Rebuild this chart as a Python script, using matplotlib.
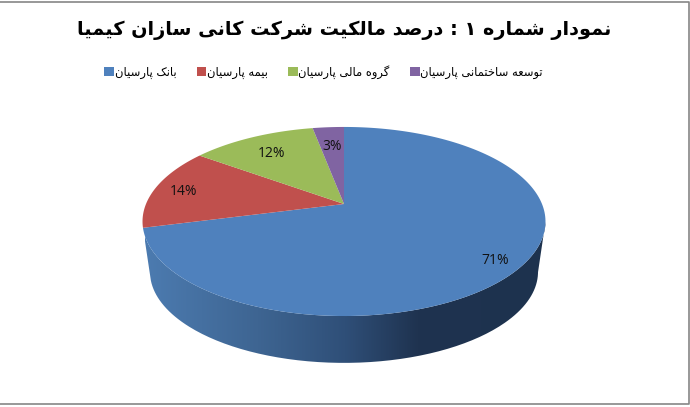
import numpy as np
import matplotlib
matplotlib.use("Agg")
import matplotlib.pyplot as plt
from matplotlib.colors import LinearSegmentedColormap
from matplotlib.patches import Patch, PathPatch
from matplotlib.path import Path

# chart data
title = "نمودار شماره ۱ : درصد مالکیت شرکت کانی سازان کیمیا"
names = ["بانک پارسیان", "بیمه پارسیان", "گروه مالی پارسیان", "توسعه ساختمانی پارسیان"]
values = [71, 14, 12, 3]
colors = ["#4f81bd", "#c0504d", "#9bbb59", "#8064a2"]
label_radius = [0.87, 0.85, 0.76, 0.75]

# presentation forms: isolated, final, initial, medial
FORMS = {
    "ا": (0xFE8D, 0xFE8E), "ب": (0xFE8F, 0xFE90, 0xFE91, 0xFE92),
    "پ": (0xFB56, 0xFB57, 0xFB58, 0xFB59), "ت": (0xFE95, 0xFE96, 0xFE97, 0xFE98),
    "خ": (0xFEA5, 0xFEA6, 0xFEA7, 0xFEA8), "د": (0xFEA9, 0xFEAA),
    "ر": (0xFEAD, 0xFEAE), "ز": (0xFEAF, 0xFEB0),
    "س": (0xFEB1, 0xFEB2, 0xFEB3, 0xFEB4), "ش": (0xFEB5, 0xFEB6, 0xFEB7, 0xFEB8),
    "ص": (0xFEB9, 0xFEBA, 0xFEBB, 0xFEBC), "ع": (0xFEC9, 0xFECA, 0xFECB, 0xFECC),
    "ک": (0xFB8E, 0xFB8F, 0xFB90, 0xFB91), "گ": (0xFB92, 0xFB93, 0xFB94, 0xFB95),
    "ل": (0xFEDD, 0xFEDE, 0xFEDF, 0xFEE0), "م": (0xFEE1, 0xFEE2, 0xFEE3, 0xFEE4),
    "ن": (0xFEE5, 0xFEE6, 0xFEE7, 0xFEE8), "ه": (0xFEE9, 0xFEEA, 0xFEEB, 0xFEEC),
    "و": (0xFEED, 0xFEEE), "ی": (0xFBFC, 0xFBFD, 0xFBFE, 0xFBFF),
}


def shape(text):
    '''
    Join the persian letters and put them in drawing order,
    matplotlib does neither by itself.
    '''
    out = []
    for i, ch in enumerate(text):
        if ch not in FORMS:
            out.append(ch)
            continue
        prev = text[i - 1] if i > 0 else " "
        nxt = text[i + 1] if i + 1 < len(text) else " "
        joins_prev = prev in FORMS and len(FORMS[prev]) == 4
        joins_next = nxt in FORMS and len(FORMS[ch]) == 4
        if joins_prev and joins_next:
            form = 3
        elif joins_prev:
            form = 1
        elif joins_next:
            form = 2
        else:
            form = 0
        out.append(chr(FORMS[ch][form]))
    return "".join(reversed(out))


def project(angle, radius=1.0, lower=False):
    '''
    Perspective view of a point on the pie, angle clockwise from 12 o'clock.
    lower=True gives the bottom rim of the pie.
    '''
    u = radius * np.sin(angle)
    v = radius * np.cos(angle)
    den = 1 + 0.185 * v
    if lower:
        return 344 + 0.963 * 198 * u / den, 255 - 0.963 * 91.3 * v / den
    return 344 + 198 * u / den, 204 - 91.3 * v / den


plt.rcParams["font.family"] = "DejaVu Sans"
fig = plt.figure(figsize=(6.9, 4.07), dpi=100)
ax = fig.add_axes([0, 0, 1, 1])

edges = 2 * np.pi * np.cumsum([0] + values) / sum(values)

# side wall of the blue slice, only this one faces the viewer
arc = np.linspace(edges[0], edges[1], 300)
top_x, top_y = project(arc)
low_x, low_y = project(arc, lower=True)
# lower rim only between its left and right extremes, so the sides run straight
keep = np.arange(np.argmax(low_x), np.argmin(low_x) + 1)
right = np.argmax(top_x)
wall_x = np.r_[top_x[right:], low_x[keep][::-1], top_x[right]]
wall_y = np.r_[top_y[right:], low_y[keep][::-1], top_y[right]]
wall_cmap = LinearSegmentedColormap.from_list(
    "wall", [(0.0, "#4c7bb0"), (0.28, "#3e6592"), (0.50, "#2f4f78"),
             (0.68, "#1f3350"), (1.0, "#1d324e")])
shade = ax.imshow(np.linspace(0, 1, 256)[None, :], cmap=wall_cmap, aspect="auto",
                  extent=[145, 546, 400, 120], zorder=1)
clip = PathPatch(Path(np.column_stack([wall_x, wall_y])), transform=ax.transData,
                 facecolor="none", edgecolor="none")
ax.add_patch(clip)
shade.set_clip_path(clip)

# top of the pie
for i, value in enumerate(values):
    t = np.linspace(edges[i], edges[i + 1], 200)
    x, y = project(t)
    ax.fill(np.r_[344, x], np.r_[204, y], color=colors[i], lw=0, zorder=2)
    mid = (edges[i] + edges[i + 1]) / 2
    lx, ly = project(mid, label_radius[i])
    ax.text(lx, ly + 2, "%d%%" % value, ha="center", va="center", fontsize=10,
            family="Open Sans", color="#111111", zorder=3)

ax.text(344.5, 30, shape(title), ha="center", va="center", fontsize=13.9,
        fontweight="bold", color="black")

handles = [Patch(facecolor=c, edgecolor="none") for c in colors]
ax.legend(handles, [shape(n) for n in names], ncol=4, loc="center",
          bbox_to_anchor=(323.5, 72), bbox_transform=ax.transData, frameon=False,
          fontsize=8.3, handlelength=0.85, handleheight=0.85, handletextpad=0.05,
          columnspacing=1.75, borderpad=0, borderaxespad=0)

# chart frame, the left side is cut off in the picture
ax.plot([0, 689, 689, 0], [1.5, 1.5, 404, 404], color="#868686", lw=1.2)

ax.set_xlim(0, 690)
ax.set_ylim(407, 0)
ax.axis("off")
fig.savefig("out.png", dpi=100, facecolor="white")
